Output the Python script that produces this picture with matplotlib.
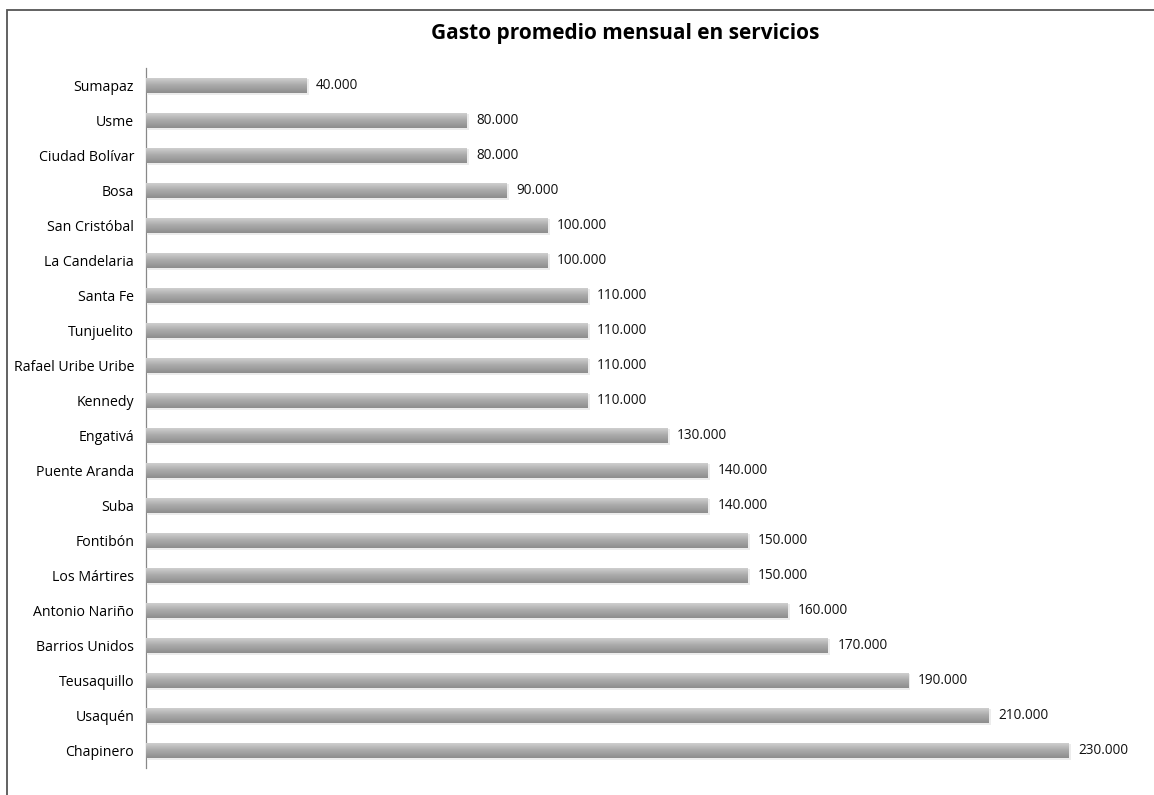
import matplotlib
matplotlib.use('Agg')
import numpy as np
import matplotlib.pyplot as plt
from matplotlib.colors import LinearSegmentedColormap
from matplotlib.patches import Rectangle

localidades = ['Sumapaz', 'Usme', 'Ciudad Bolívar', 'Bosa', 'San Cristóbal',
               'La Candelaria', 'Santa Fe', 'Tunjuelito', 'Rafael Uribe Uribe',
               'Kennedy', 'Engativá', 'Puente Aranda', 'Suba', 'Fontibón',
               'Los Mártires', 'Antonio Nariño', 'Barrios Unidos', 'Teusaquillo',
               'Usaquén', 'Chapinero']
gasto = [40000, 80000, 80000, 90000, 100000, 100000, 110000, 110000, 110000,
         110000, 130000, 140000, 140000, 150000, 150000, 160000, 170000,
         190000, 210000, 230000]

plt.rcParams['font.family'] = ['Open Sans', 'DejaVu Sans']

fig = plt.figure(figsize=(11.54, 7.95), dpi=100)
ax = fig.add_axes([146 / 1154, 27 / 795, (1100 - 146) / 1154, 700 / 795])

# marco de la figura
fig.patches.append(Rectangle((7 / 1154, -0.1), 1.2, 1 - 9.5 / 795 + 0.1,
                             transform=fig.transFigure, fill=False,
                             edgecolor='#555555', linewidth=1.3))

y = np.arange(len(localidades))
h = 0.43

# sombra suave
ax.barh(y + 0.05, gasto, height=h + 0.04, left=600, color='#ececec', zorder=1)
bars = ax.barh(y, gasto, height=h, color='#a8a8a8', zorder=2)

cmap = LinearSegmentedColormap.from_list(
    'gris', ['#d4d4d4', '#bfbfbf', '#aaaaaa', '#9c9c9c', '#8c8c8c'])
grad = np.linspace(0, 1, 64).reshape(-1, 1)
for b in bars:
    x0, y0 = b.get_x(), b.get_y()
    im = ax.imshow(grad, cmap=cmap, aspect='auto', zorder=3,
                   extent=(x0, x0 + b.get_width(), y0 + b.get_height(), y0),
                   interpolation='bicubic')
    im.set_clip_path(b)

for yi, v in zip(y, gasto):
    ax.annotate(f'{v:,}'.replace(',', '.'), (v, yi), xytext=(7, 0),
                textcoords='offset points', va='center', ha='left',
                fontsize=9.8, color='#111111')

ax.set_xlim(0, (1100 - 146) / 0.004011)
ax.set_ylim(len(localidades) - 0.5, -0.5)
ax.set_yticks(y)
ax.set_yticklabels(localidades, fontsize=10.2)
ax.tick_params(axis='y', length=0, pad=8.5)
ax.set_xticks([])
for s in ['top', 'right', 'bottom']:
    ax.spines[s].set_visible(False)
ax.spines['left'].set_color('#888888')
ax.spines['left'].set_linewidth(0.9)

fig.text(625 / 1154, 1 - 33 / 795, 'Gasto promedio mensual en servicios',
         ha='center', va='center', fontsize=15, fontweight='bold')

fig.savefig('out.png', dpi=100)
